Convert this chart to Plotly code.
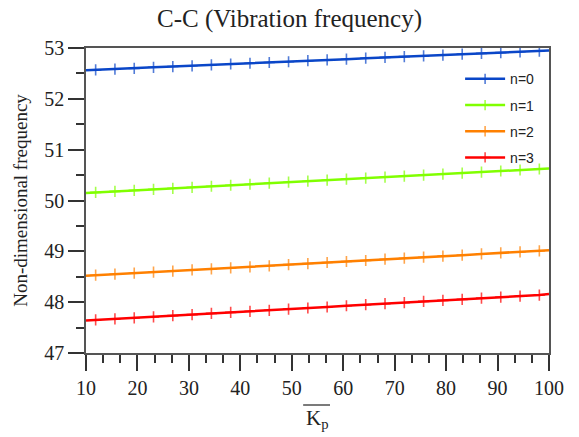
import plotly.graph_objects as go

x_vals = [10, 11.875, 15.625, 19.375, 23.125, 26.875, 30.625, 34.375, 38.125, 41.875,
          45.625, 49.375, 53.125, 56.875, 60.625, 64.375, 68.125, 71.875, 75.625, 79.375,
          83.125, 86.875, 90.625, 94.375, 98.125, 100]
n0 = [52.56, 52.57, 52.585, 52.60, 52.62, 52.635, 52.65, 52.67, 52.685, 52.70, 52.715, 52.73, 52.75,
      52.765, 52.78, 52.80, 52.815, 52.83, 52.845, 52.86, 52.88, 52.895, 52.91, 52.925, 52.94, 52.95]
n1 = [50.15, 50.16, 50.18, 50.20, 50.22, 50.24, 50.26, 50.28, 50.30, 50.32, 50.34, 50.36, 50.38,
      50.40, 50.42, 50.44, 50.46, 50.48, 50.50, 50.52, 50.54, 50.56, 50.58, 50.60, 50.62, 50.63]
n2 = [48.52, 48.53, 48.55, 48.57, 48.59, 48.61, 48.635, 48.655, 48.675, 48.695, 48.715, 48.74, 48.76,
      48.78, 48.80, 48.82, 48.845, 48.865, 48.885, 48.905, 48.925, 48.95, 48.97, 48.99, 49.01, 49.02]
n3 = [47.64, 47.65, 47.67, 47.69, 47.71, 47.735, 47.755, 47.78, 47.80, 47.82, 47.84, 47.865, 47.885,
      47.905, 47.93, 47.95, 47.97, 47.99, 48.015, 48.035, 48.055, 48.08, 48.10, 48.12, 48.14, 48.16]

names = ["n=0", "n=1", "n=2", "n=3"]
series = [n0, n1, n2, n3]
colors = ["#0a46c8", "#80ff00", "#ff8000", "#ff0000"]

marker_sizes = [0] + [8] * (len(x_vals) - 2) + [0]

fig = go.Figure()
for name, ys, c in zip(names, series, colors):
    fig.add_trace(go.Scatter(
        x=x_vals, y=ys, name=name, mode="lines+markers", legendgroup=name,
        line=dict(color=c, width=2.5),
        marker=dict(symbol="cross-thin", size=marker_sizes, color=c,
                    line=dict(color=c, width=1.6)),
    ))

axis_common = dict(
    showline=True, linecolor="#555555", linewidth=1.5, mirror=True,
    ticks="outside", tickcolor="#333333", tickwidth=1.5, ticklen=16,
    showgrid=False, zeroline=False,
    tickfont=dict(family="Liberation Serif", size=20, color="#222222"),
)

serif = "Liberation Serif"

fig.update_layout(
    width=579, height=437,
    margin=dict(l=86, r=30, t=48, b=84),
    paper_bgcolor="white", plot_bgcolor="white",
    title=dict(text="C-C (Vibration frequency)", x=0.5, xanchor="center",
               y=0.958, yanchor="middle",
               font=dict(family=serif, size=25, color="#222222")),
    xaxis=dict(range=[10, 100], tick0=10, dtick=10,
               minor=dict(ticks="outside", ticklen=8, tickcolor="#333333",
                          tickwidth=1.5, dtick=10/3, tick0=10),
               **axis_common),
    yaxis=dict(range=[47, 53], tick0=47, dtick=1,
               minor=dict(ticks="outside", ticklen=8, tickcolor="#333333",
                          tickwidth=1.5, dtick=0.5),
               title=dict(text="Non-dimensional frequency",
                          font=dict(family=serif, size=19, color="#222222"),
                          standoff=12),
               **axis_common),
    legend=dict(x=0.808, y=0.95, xanchor="left", yanchor="top",
                bgcolor="rgba(0,0,0,0)", borderwidth=0,
                font=dict(family="Liberation Sans", size=14, color="#222222"),
                tracegroupgap=5, itemwidth=40),
    showlegend=True,
    annotations=[dict(text="K<sub>p</sub>", xref="paper", yref="paper",
                      x=0.5, y=-0.168, xanchor="center", yanchor="top",
                      showarrow=False,
                      font=dict(family=serif, size=21, color="#222222"))],
    shapes=[dict(type="line", xref="paper", yref="paper",
                 x0=0.469, x1=0.527, y0=-0.1705, y1=-0.1705,
                 line=dict(color="#222222", width=1.2))],
)

fig.write_html("out.html")
